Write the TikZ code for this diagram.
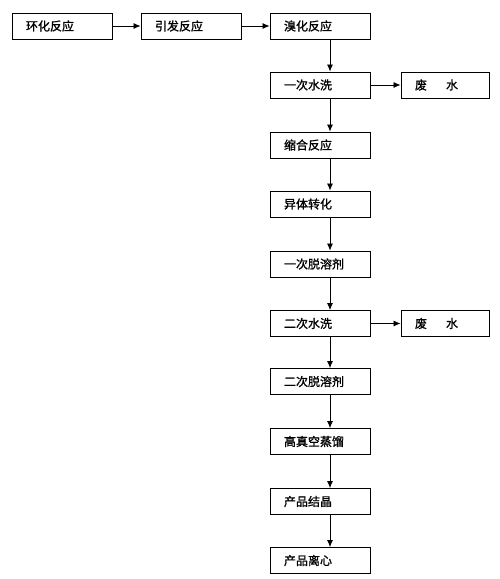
\documentclass[tikz,border=0pt]{standalone}
\usepackage{fontspec}
\usetikzlibrary{arrows.meta}
\newfontfamily\cjk{Noto Sans CJK SC}[FakeBold=1.2]
\begin{document}
\begin{tikzpicture}[
    x=1pt, y=-1pt,
    stepbox/.style={rectangle, draw=black, line width=0.9pt, minimum height=26pt,
        text width=72pt, align=left, inner xsep=14pt, font=\cjk\fontsize{12pt}{13pt}\selectfont},
    wastebox/.style={stepbox, text width=60pt},
    flow/.style={-{Latex[length=7pt,width=6pt]}, line width=0.8pt},
    down/.style={xshift=10pt}
]
    \useasboundingbox (0,0) rectangle (500,579);

    \node[stepbox] at (62,26) (ring) {环化反应};
    \node[stepbox] at (191,26) (init) {引发反应};
    \node[stepbox] at (320,26) (brom) {溴化反应};
    \node[stepbox] at (320,85) (washa) {一次水洗};
    \node[wastebox] at (445,85) (wastea) {废\hspace{19pt}水};
    \node[stepbox] at (320,145) (cond) {缩合反应};
    \node[stepbox] at (320,204) (isom) {异体转化};
    \node[stepbox] at (320,264) (desola) {一次脱溶剂};
    \node[stepbox] at (320,323.5) (washb) {二次水洗};
    \node[wastebox] at (445,323.5) (wasteb) {废\hspace{19pt}水};
    \node[stepbox] at (320,381.5) (desolb) {二次脱溶剂};
    \node[stepbox] at (320,441.5) (vacdis) {高真空蒸馏};
    \node[stepbox] at (320,501.5) (cryst) {产品结晶};
    \node[stepbox] at (320,560.5) (centr) {产品离心};

    \draw[flow] (ring) -- (init);
    \draw[flow] (init) -- (brom);
    \draw[flow] (washa) -- (wastea);
    \draw[flow] (washb) -- (wasteb);

    \draw[flow] ([down]brom.south) -- ([down]washa.north);
    \draw[flow] ([down]washa.south) -- ([down]cond.north);
    \draw[flow] ([down]cond.south) -- ([down]isom.north);
    \draw[flow] ([down]isom.south) -- ([down]desola.north);
    \draw[flow] ([down]desola.south) -- ([down]washb.north);
    \draw[flow] ([down]washb.south) -- ([down]desolb.north);
    \draw[flow] ([down]desolb.south) -- ([down]vacdis.north);
    \draw[flow] ([down]vacdis.south) -- ([down]cryst.north);
    \draw[flow] ([down]cryst.south) -- ([down]centr.north);
\end{tikzpicture}
\end{document}
